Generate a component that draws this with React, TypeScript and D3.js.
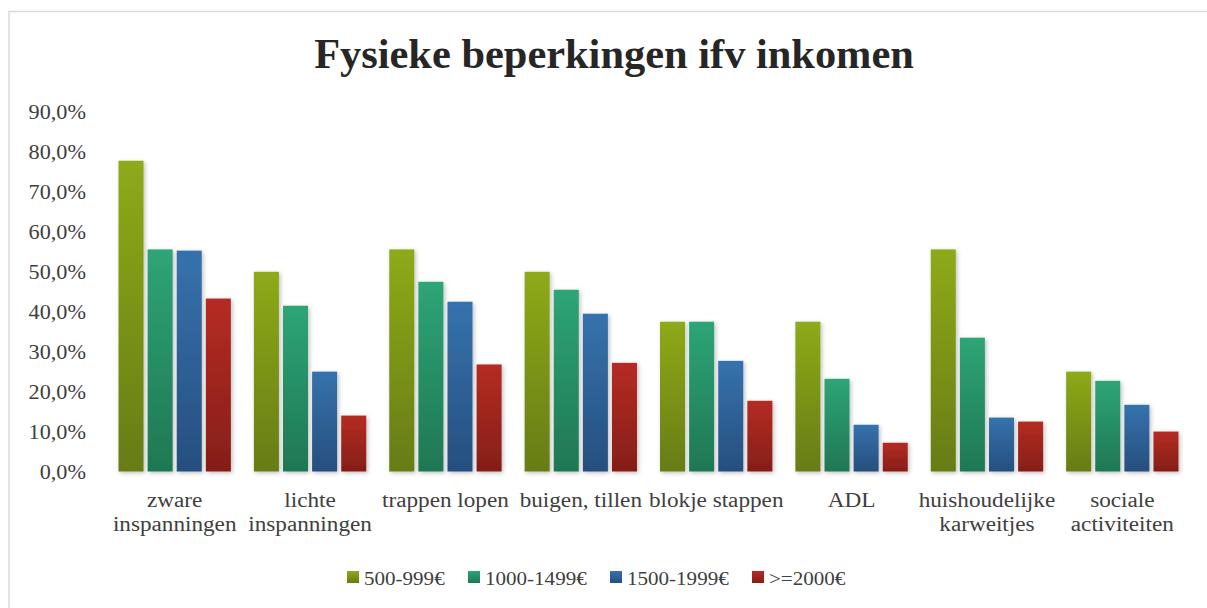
import React from "react";
import * as d3 from "d3";

const categories: string[][] = [
  ["zware", "inspanningen"],
  ["lichte", "inspanningen"],
  ["trappen lopen"],
  ["buigen, tillen"],
  ["blokje stappen"],
  ["ADL"],
  ["huishoudelijke", "karweitjes"],
  ["sociale", "activiteiten"],
];
const seriesNames = ["500-999€", "1000-1499€", "1500-1999€", ">=2000€"];
const s500 = [77.8, 50.0, 55.6, 50.0, 37.5, 37.5, 55.6, 25.0];
const s1000 = [55.6, 41.5, 47.5, 45.5, 37.5, 23.2, 33.5, 22.7];
const s1500 = [55.3, 25.0, 42.5, 39.5, 27.7, 11.7, 13.5, 16.7];
const s2000 = [43.3, 14.0, 26.8, 27.2, 17.7, 7.2, 12.5, 10.0];
const seriesValues = [s500, s1000, s1500, s2000];
const yTicks = [0, 10, 20, 30, 40, 50, 60, 70, 80, 90];

const colorsTop = ["#8eaa1a", "#2ea576", "#3672ad", "#b52c22"];
const colorsBottom = ["#677c12", "#1f7753", "#264f7e", "#851e18"];

const W = 1207;
const H = 608;
const fontFam = "'Liberation Serif', 'DejaVu Serif', serif";

export default function App() {
  const x = d3.scaleBand<number>().domain(d3.range(categories.length)).range([107, 1190]).paddingInner(0).paddingOuter(0);
  const groupW = x.bandwidth() * 0.83;
  const xs = d3.scaleBand<number>().domain(d3.range(4)).range([0, groupW]).paddingInner(0.14);
  const y = d3.scaleLinear().domain([0, 90]).range([471.5, 112]);
  const fmt = (v: number) => v.toFixed(1).replace(".", ",") + "%";

  const legendX = [347, 468, 610, 752];

  return (
    <svg width={W} height={H} style={{ position: "absolute", left: 0, top: 0, background: "#fff" }}>
      <defs>
        {colorsTop.map((c, i) => (
          <linearGradient key={i} id={`g${i}`} x1="0" y1="0" x2="0" y2="1">
            <stop offset="0" stopColor={c} />
            <stop offset="1" stopColor={colorsBottom[i]} />
          </linearGradient>
        ))}
        <filter id="sh" x="-30%" y="-10%" width="160%" height="130%">
          <feDropShadow dx="1.5" dy="1.5" stdDeviation="2" floodColor="#000" floodOpacity="0.25" />
        </filter>
        <filter id="shl" x="-5%" y="-200%" width="110%" height="500%">
          <feDropShadow dx="0" dy="1" stdDeviation="0.8" floodColor="#000" floodOpacity="0.15" />
        </filter>
      </defs>
      <rect x={9} y={11.5} width={W} height={H} fill="#fff" stroke="#d9d9d9" strokeWidth={1.5} />
      <text transform="translate(614,68) scale(1.01,1)" textAnchor="middle" fontFamily={fontFam} fontWeight="bold" fontSize={42} fill="#262626">
        Fysieke beperkingen ifv inkomen
      </text>
      {yTicks.map((t) => (
        <g key={t}>
          <line x1={106} x2={1190} y1={y(t)} y2={y(t)} stroke="#d9d9d9" strokeWidth={1.8} filter="url(#shl)" />
          <text transform={`translate(86,${y(t) + 7}) scale(1.06,1)`} textAnchor="end" fontFamily={fontFam} fontSize={21} fill="#404040">
            {fmt(t)}
          </text>
        </g>
      ))}
      {categories.map((cat, ci) => {
        const gx = (x(ci) as number) + (x.bandwidth() - groupW) / 2;
        return (
          <g key={ci}>
            {seriesValues.map((vals, si) => (
              <rect
                key={si}
                x={gx + (xs(si) as number)}
                y={y(vals[ci])}
                width={xs.bandwidth()}
                height={y(0) - y(vals[ci])}
                fill={`url(#g${si})`}
                filter="url(#sh)"
              />
            ))}
            {cat.map((line, li) => (
              <text
                key={li}
                transform={`translate(${(x(ci) as number) + x.bandwidth() / 2},${507 + li * 24}) scale(1.16,1)`}
                textAnchor="middle"
                fontFamily={fontFam}
                fontSize={20}
                fill="#404040"
              >
                {line}
              </text>
            ))}
          </g>
        );
      })}
      {seriesNames.map((n, i) => (
        <g key={i}>
          <rect x={legendX[i]} y={571} width={12} height={12} fill={`url(#g${i})`} />
          <text transform={`translate(${legendX[i] + 17},585) scale(1.08,1)`} fontFamily={fontFam} fontSize={19.5} fill="#404040">
            {n}
          </text>
        </g>
      ))}
    </svg>
  );
}
